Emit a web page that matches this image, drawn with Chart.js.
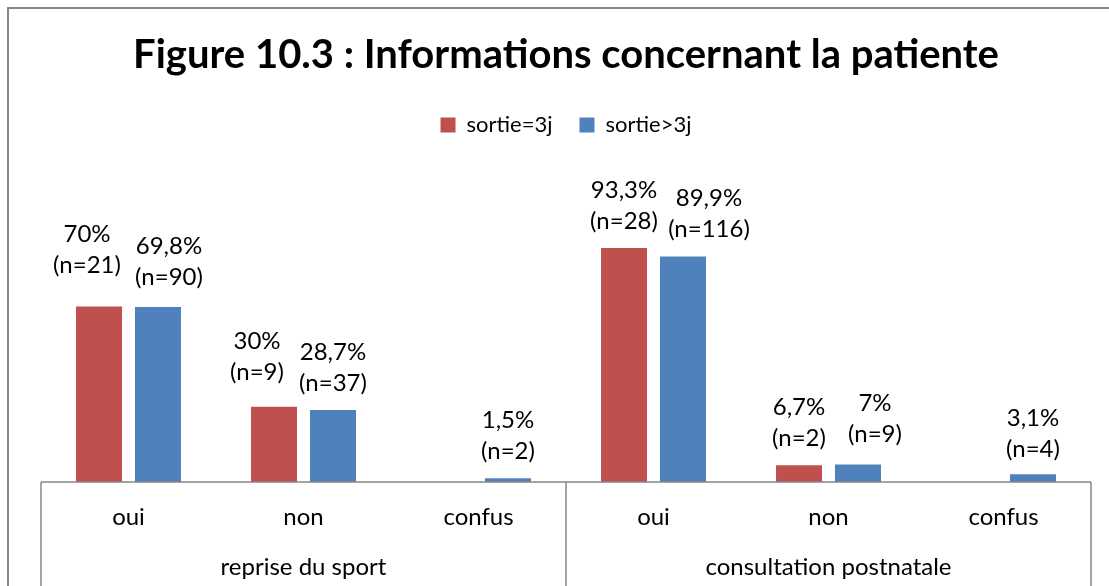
<!DOCTYPE html>
<html>
<head>
<meta charset="utf-8">
<title>Figure 10.3</title>
<script src="https://cdn.jsdelivr.net/npm/chart.js@4.4.1/dist/chart.umd.min.js"></script>
<style>
  html, body { margin:0; padding:0; background:#fff; }
  #wrap { width:1109px; height:586px; }
</style>
</head>
<body>
<div id="wrap"><canvas id="chart" width="1109" height="586"></canvas></div>
<script>
// données
const categories = ['oui', 'non', 'confus', 'oui', 'non', 'confus'];
const groups = ['reprise du sport', 'consultation postnatale'];
const seriesNames = ['sortie=3j', 'sortie>3j'];
const pctShort = [70, 30, 0, 93.3, 6.7, 0];
const pctLong = [69.8, 28.7, 1.5, 89.9, 7, 3.1];
const nShort = [21, 9, 0, 28, 2, 0];
const nLong = [90, 37, 2, 116, 9, 4];

// petits décalages manuels des étiquettes (comme dans l'original)
const labelNudge = [
  [[-12,-14],[-17,-8],[0,0],[0,0],[0,0],[0,0]],
  [[11,-3],[0,0],[0,0],[26,0],[17,-3],[0,2]]
];

const FONT = 'Lato, "Open Sans", sans-serif';
const RED = '#C0504D', BLUE = '#4F81BD', AXIS = '#868686';
const fmtPct = (v) => String(v).replace('.', ',') + '%';
const counts = [nShort, nLong];

const framePlugin = {
  id: 'frame',
  beforeDraw(chart){
    const c = chart.ctx;
    c.save();
    c.fillStyle = '#fff';
    c.fillRect(0, 0, chart.width, chart.height);
    c.strokeStyle = AXIS;
    c.lineWidth = 2;
    c.strokeRect(8, 8, chart.width + 20, chart.height + 20);
    c.restore();
  }
};

const labelsPlugin = {
  id: 'barLabels',
  afterDatasetsDraw(chart){
    const c = chart.ctx;
    c.save();
    c.font = '24px ' + FONT;
    c.fillStyle = '#000';
    c.textAlign = 'center';
    c.textBaseline = 'middle';
    chart.data.datasets.forEach((ds, i) => {
      chart.getDatasetMeta(i).data.forEach((bar, j) => {
        const v = ds.data[j];
        if (!v) return;
        const [dx, dy] = labelNudge[i][j];
        const y2 = bar.y - 27 + dy;
        c.fillText(fmtPct(v), bar.x + dx, y2 - 31);
        c.fillText('(n=' + counts[i][j] + ')', bar.x + dx, y2);
      });
    });
    c.restore();
  }
};

const groupAxisPlugin = {
  id: 'groupAxis',
  afterDraw(chart){
    const c = chart.ctx, x = chart.scales.x, area = chart.chartArea;
    const half = (x.getPixelForValue(1) - x.getPixelForValue(0)) / 2;
    const seps = [x.getPixelForValue(0) - half, x.getPixelForValue(2) + half, x.getPixelForValue(5) + half];
    c.save();
    c.strokeStyle = AXIS;
    c.lineWidth = 1.5;
    c.beginPath();
    c.moveTo(seps[0], area.bottom); c.lineTo(seps[2], area.bottom);
    seps.forEach(s => { c.moveTo(s, area.bottom); c.lineTo(s, chart.height); });
    c.stroke();
    c.font = '24px ' + FONT;
    c.fillStyle = '#000';
    c.textAlign = 'center';
    c.textBaseline = 'middle';
    groups.forEach((g, k) => {
      const cx = (x.getPixelForValue(k*3) + x.getPixelForValue(k*3 + 2)) / 2;
      c.fillText(g, cx, 567);
    });
    c.restore();
  }
};

new Chart(document.getElementById('chart'), {
  type: 'bar',
  data: {
    labels: categories,
    datasets: [
      { label: seriesNames[0], data: pctShort, backgroundColor: RED },
      { label: seriesNames[1], data: pctLong, backgroundColor: BLUE }
    ]
  },
  options: {
    responsive: false,
    animation: false,
    devicePixelRatio: 1,
    categoryPercentage: 0.674,
    barPercentage: 0.78,
    layout: { padding: { left: 41, right: 18, top: 0, bottom: 0 } },
    scales: {
      x: {
        grid: { display: false },
        border: { display: false },
        ticks: { color: '#000', font: { family: FONT, size: 24 }, padding: 13, maxRotation: 0 },
        afterFit(scale){ scale.height = 104; }
      },
      y: { display: false, min: 0, max: 134 }
    },
    plugins: {
      title: {
        display: true,
        text: 'Figure 10.3 : Informations concernant la patiente',
        color: '#000',
        font: { family: FONT, size: 40, weight: 'bold' },
        padding: { top: 31, bottom: 8 }
      },
      legend: {
        labels: {
          color: '#000',
          font: { family: FONT, size: 22 },
          boxWidth: 15, boxHeight: 15,
          padding: 27
        }
      },
      tooltip: { enabled: false }
    }
  },
  plugins: [framePlugin, labelsPlugin, groupAxisPlugin]
});
</script>
</body>
</html>
